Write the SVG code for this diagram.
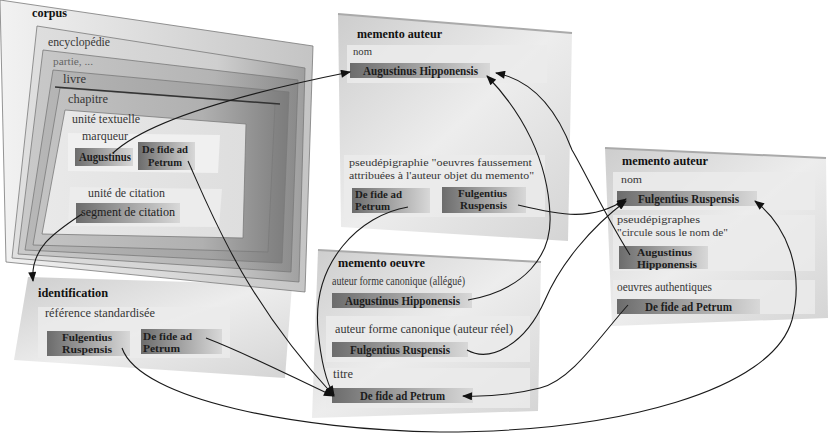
<svg xmlns="http://www.w3.org/2000/svg" width="829" height="433" viewBox="0 0 829 433">
<defs>
<style>
text{font-family:'Liberation Serif','Times New Roman',serif}
.lb{font-size:12px;fill:#363636}
.bt{font-size:12px;font-weight:bold;fill:#1c1c1c}
.ti{font-size:12px;font-weight:bold;fill:#111}
.sm{font-size:10px}
.pn{fill:#ebebeb;opacity:0.85}
.box{fill:url(#bx)}
.cn{fill:none;stroke:#1a1a1a;stroke-width:1.1}
.ar{marker-end:url(#ah)}
.lay{stroke:#7a7a7a;stroke-width:0.8}
</style>
<linearGradient id="bx" x1="0" y1="0" x2="1" y2="0">
<stop offset="0" stop-color="#6c6c6c"/><stop offset="0.55" stop-color="#a8a8a8"/><stop offset="1" stop-color="#d8d8d8"/>
</linearGradient>
<linearGradient id="mg" x1="0" y1="0" x2="1" y2="1">
<stop offset="0" stop-color="#cdcdcd"/><stop offset="0.5" stop-color="#ededed"/><stop offset="1" stop-color="#d4d4d4"/>
</linearGradient>
<linearGradient id="g0" x1="0" y1="0" x2="1" y2="0"><stop offset="0" stop-color="#f2f2f2"/><stop offset="1" stop-color="#c4c4c4"/></linearGradient>
<linearGradient id="g1" x1="0" y1="0" x2="1" y2="0"><stop offset="0" stop-color="#e0e0e0"/><stop offset="0.7" stop-color="#cfcfcf"/><stop offset="1" stop-color="#9e9e9e"/></linearGradient>
<linearGradient id="g2" x1="0" y1="0" x2="1" y2="0"><stop offset="0" stop-color="#cacaca"/><stop offset="0.7" stop-color="#b4b4b4"/><stop offset="1" stop-color="#8a8a8a"/></linearGradient>
<linearGradient id="g3" x1="0" y1="0" x2="1" y2="0"><stop offset="0" stop-color="#b8b8b8"/><stop offset="0.7" stop-color="#a3a3a3"/><stop offset="1" stop-color="#7c7c7c"/></linearGradient>
<linearGradient id="g4" x1="0" y1="0" x2="1" y2="0"><stop offset="0" stop-color="#c4c4c4"/><stop offset="0.7" stop-color="#b0b0b0"/><stop offset="1" stop-color="#858585"/></linearGradient>
<linearGradient id="g5" x1="0" y1="0" x2="1" y2="0"><stop offset="0" stop-color="#e9e9e9"/><stop offset="1" stop-color="#dedede"/></linearGradient>
<marker id="ah" viewBox="0 0 10 8" refX="9" refY="4" markerWidth="11" markerHeight="8" markerUnits="userSpaceOnUse" orient="auto">
<path d="M0,0 L10,4 L0,8 z" fill="#111"/>
</marker>
</defs>
<rect width="829" height="433" fill="#ffffff"/>

<g id="identification">
<polygon points="28,277 292,285 285,378 14,360" fill="url(#mg)"/>
<polygon class="pn" points="38,307 230,307 230,358 38,358"/>
<text class="ti" x="38" y="297" textLength="70" lengthAdjust="spacingAndGlyphs">identification</text>
<text class="lb" x="45" y="317" textLength="110" lengthAdjust="spacingAndGlyphs">référence standardisée</text>
<rect class="box" x="47" y="331" width="83" height="25"/>
<text class="bt sm" x="62" y="341" textLength="50" lengthAdjust="spacingAndGlyphs">Fulgentius</text>
<text class="bt sm" x="62" y="353" textLength="50" lengthAdjust="spacingAndGlyphs">Ruspensis</text>
<rect class="box" x="141" y="329" width="81" height="25"/>
<text class="bt sm" x="143" y="340" textLength="49" lengthAdjust="spacingAndGlyphs">De fide ad</text>
<text class="bt sm" x="143" y="352" textLength="37" lengthAdjust="spacingAndGlyphs">Petrum</text>
</g>

<g id="corpus">
<polygon class="lay" points="0,0 313,46 305,292 6,262" fill="url(#g0)"/>
<polygon class="lay" points="37,26 305,68 299,282 12,258" fill="url(#g1)"/>
<polygon class="lay" points="43,50 298,80 291,272 18,254" fill="url(#g2)"/>
<polygon class="lay" points="53,70 289,92 282,263 25,250" fill="url(#g3)"/>
<polygon class="lay" points="60,88 275,104 268,252 33,245" fill="url(#g4)"/>
<polygon class="lay" points="65,110 246,124 243,238 42,234" fill="url(#g5)"/>
<polyline points="55,87 280,104" fill="none" stroke="#333" stroke-width="1.4"/>
<polygon points="68,133 220,135 218,173 68,171" fill="#f0f0f0"/>
<polygon points="70,187 222,189 219,227 68,226" fill="#ececec"/>
<text class="ti" x="32" y="17" textLength="35" lengthAdjust="spacingAndGlyphs">corpus</text>
<text class="lb" x="48" y="46" textLength="62" lengthAdjust="spacingAndGlyphs">encyclopédie</text>
<text class="lb" x="53" y="65" textLength="40" lengthAdjust="spacingAndGlyphs" style="fill:#666;font-size:10px">partie, ...</text>
<text class="lb" x="63" y="83" textLength="23" lengthAdjust="spacingAndGlyphs">livre</text>
<text class="lb" x="68" y="103" textLength="40" lengthAdjust="spacingAndGlyphs">chapitre</text>
<text class="lb" x="72" y="123" textLength="68" lengthAdjust="spacingAndGlyphs">unité textuelle</text>
<text class="lb" x="82" y="140" textLength="46" lengthAdjust="spacingAndGlyphs">marqueur</text>
<rect class="box" x="75" y="148" width="58" height="18"/>
<text class="bt" x="79" y="161" textLength="52" lengthAdjust="spacingAndGlyphs">Augustinus</text>
<rect class="box" x="138" y="142" width="57" height="28"/>
<text class="bt sm" x="142" y="153" textLength="46" lengthAdjust="spacingAndGlyphs">De fide ad</text>
<text class="bt sm" x="148" y="166" textLength="34" lengthAdjust="spacingAndGlyphs">Petrum</text>
<text class="lb" x="88" y="197" textLength="77" lengthAdjust="spacingAndGlyphs">unité de citation</text>
<rect class="box" x="76" y="203" width="104" height="20"/>
<text class="lb" x="81" y="216" textLength="94" lengthAdjust="spacingAndGlyphs" style="fill:#1c1c1c">segment de citation</text>
</g>

<g id="memento-auteur-1">
<polygon points="338,14 572,33 568,241 341,227" fill="url(#mg)"/>
<polyline points="338,14 572,33" fill="none" stroke="#aaa" stroke-width="2"/>
<polygon class="pn" points="347,45 547,45 547,83 347,83"/>
<polygon class="pn" points="344,155 545,155 545,217 344,217"/>
<text class="ti" x="357" y="38" textLength="85" lengthAdjust="spacingAndGlyphs">memento auteur</text>
<text class="lb" x="353" y="55" textLength="19" lengthAdjust="spacingAndGlyphs" style="font-size:10px">nom</text>
<rect class="box" x="350" y="63" width="140" height="15"/>
<text class="bt" x="363" y="75" textLength="115" lengthAdjust="spacingAndGlyphs">Augustinus Hipponensis</text>
<text class="lb sm" x="349" y="166" textLength="183" lengthAdjust="spacingAndGlyphs" style="font-size:11px">pseudépigraphie "oeuvres faussement</text>
<text class="lb sm" x="349" y="179" textLength="185" lengthAdjust="spacingAndGlyphs" style="font-size:11px">attribuées à l'auteur objet du memento"</text>
<rect class="box" x="352" y="188" width="78" height="25"/>
<text class="bt sm" x="355" y="198" textLength="47" lengthAdjust="spacingAndGlyphs">De fide ad</text>
<text class="bt sm" x="355" y="210" textLength="35" lengthAdjust="spacingAndGlyphs">Petrum</text>
<rect class="box" x="442" y="187" width="84" height="26"/>
<text class="bt sm" x="458" y="197" textLength="49" lengthAdjust="spacingAndGlyphs">Fulgentius</text>
<text class="bt sm" x="460" y="209" textLength="47" lengthAdjust="spacingAndGlyphs">Ruspensis</text>
</g>

<g id="memento-auteur-2">
<polygon points="605,148 826,158 828,318 612,326" fill="url(#mg)"/>
<polyline points="605,148 826,158" fill="none" stroke="#aaa" stroke-width="2"/>
<polygon class="pn" points="613,172 815,172 815,210 613,210"/>
<polygon class="pn" points="613,215 815,215 815,271 613,271"/>
<polygon class="pn" points="613,280 815,280 815,314 613,314"/>
<text class="ti" x="622" y="165" textLength="86" lengthAdjust="spacingAndGlyphs">memento auteur</text>
<text class="lb" x="621" y="183" textLength="21" lengthAdjust="spacingAndGlyphs" style="font-size:10px">nom</text>
<rect class="box" x="617" y="191" width="140" height="15"/>
<text class="bt" x="638" y="203" textLength="101" lengthAdjust="spacingAndGlyphs">Fulgentius Ruspensis</text>
<text class="lb sm" x="617" y="223" textLength="83" lengthAdjust="spacingAndGlyphs" style="font-size:11px">pseudépigraphes</text>
<text class="lb sm" x="617" y="236" textLength="111" lengthAdjust="spacingAndGlyphs" style="font-size:11px">"circule sous le nom de"</text>
<rect class="box" x="619" y="246" width="89" height="23"/>
<text class="bt sm" x="637" y="256" textLength="55" lengthAdjust="spacingAndGlyphs">Augustinus</text>
<text class="bt sm" x="637" y="268" textLength="60" lengthAdjust="spacingAndGlyphs">Hipponensis</text>
<text class="lb" x="617" y="291" textLength="95" lengthAdjust="spacingAndGlyphs">oeuvres authentiques</text>
<rect class="box" x="617" y="299" width="143" height="15"/>
<text class="bt" x="645" y="311" textLength="87" lengthAdjust="spacingAndGlyphs">De fide ad Petrum</text>
</g>

<g id="memento-oeuvre">
<polygon points="318,250 541,262 538,411 312,418" fill="url(#mg)"/>
<polyline points="318,250 541,262" fill="none" stroke="#aaa" stroke-width="2"/>
<polygon class="pn" points="326,316 530,316 530,362 326,362"/>
<polygon class="pn" points="326,368 530,368 530,408 326,408"/>
<text class="ti" x="338" y="267" textLength="87" lengthAdjust="spacingAndGlyphs">memento oeuvre</text>
<text class="lb" x="332" y="285" textLength="133" lengthAdjust="spacingAndGlyphs">auteur forme canonique (allégué)</text>
<rect class="box" x="332" y="293" width="140" height="15"/>
<text class="bt" x="345" y="305" textLength="115" lengthAdjust="spacingAndGlyphs">Augustinus Hipponensis</text>
<text class="lb" x="335" y="333" textLength="178" lengthAdjust="spacingAndGlyphs">auteur forme canonique (auteur réel)</text>
<rect class="box" x="332" y="342" width="136" height="15"/>
<text class="bt" x="350" y="354" textLength="100" lengthAdjust="spacingAndGlyphs">Fulgentius Ruspensis</text>
<text class="lb" x="333" y="378" textLength="20" lengthAdjust="spacingAndGlyphs">titre</text>
<rect class="box" x="332" y="388" width="141" height="15"/>
<text class="bt" x="360" y="400" textLength="85" lengthAdjust="spacingAndGlyphs">De fide ad Petrum</text>
</g>

<g id="connectors">
<path class="cn ar" d="M113,153 C150,118 260,90 350,72"/>
<path class="cn ar" d="M188,161 C212,215 245,300 334,396"/>
<path class="cn ar" d="M82,214 C55,232 30,248 33,281"/>
<path class="cn ar" d="M206,338 C250,355 290,376 333,396"/>
<path class="cn ar" d="M408,207 C360,215 312,262 318,330 C321,362 326,382 334,395"/>
<path class="cn ar" d="M518,205 C560,215 592,222 626,199"/>
<path class="cn ar" d="M468,300 C525,290 552,255 550,215 C548,160 522,112 487,76"/>
<path class="cn ar" d="M630,255 C605,215 585,172 572,150 C556,108 532,80 496,73"/>
<path class="cn ar" d="M467,350 C490,363 525,345 545,300 C560,265 590,228 626,201"/>
<path class="cn ar" d="M628,305 C600,336 572,380 540,388 C512,395 490,397 463,396"/>
<path class="cn ar" d="M122,348 C140,400 300,430 440,432 C620,432 772,390 792,320 C805,270 786,225 755,201"/>
</g>
</svg>
